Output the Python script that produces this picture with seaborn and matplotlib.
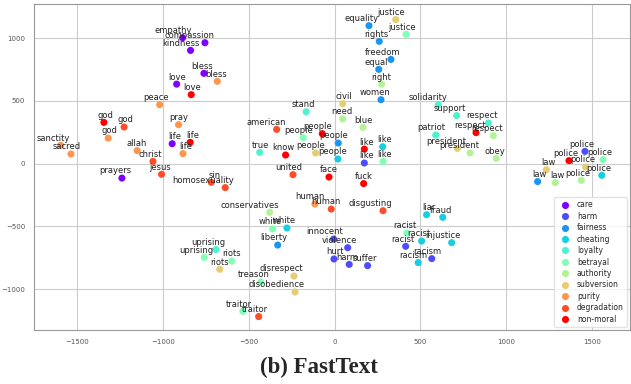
"""
t-SNE style projection of moral foundation words (FastText)
"""
import numpy as np
import pandas as pd
import matplotlib
matplotlib.use("Agg")
import matplotlib.pyplot as plt
import seaborn as sns

sns.set_style("whitegrid")

categories = ["care", "harm", "fairness", "cheating", "loyalty", "betrayal",
              "authority", "subversion", "purity", "degradation", "non-moral"]

care_words = ["empathy", "compassion", "kindness", "bless", "love", "life", "prayers"]
care_x = [-886, -756, -840, -762, -921, -947, -1240]
care_y = [1004, 964, 903, 720, 634, 159, -115]

harm_words = ["like", "innocent", "violence", "hurt", "harm", "suffer", "racist", "racism", "police"]
harm_x = [173, -6, 76, -4, 85, 192, 414, 566, 1459]
harm_y = [5, -601, -670, -760, -803, -813, -659, -757, 98]

fairness_words = ["equality", "rights", "freedom", "equal", "women", "people", "liberty", "law"]
fairness_x = [200, 260, 328, 257, 270, 21, -332, 1183]
fairness_y = [1100, 975, 831, 752, 510, 164, -649, -143]

cheating_words = ["people", "like", "white", "racist", "injustice", "racism", "liar", "fraud", "police"]
cheating_x = [19, 280, -278, 507, 682, 487, 536, 630, 1557]
cheating_y = [37, 135, -513, -617, -630, -789, -407, -428, -93]

loyalty_words = ["stand", "true", "solidarity", "support", "respect", "patriot", "uprising"]
loyalty_x = [-166, -437, 604, 711, 896, 589, -692]
loyalty_y = [414, 90, 470, 383, 324, 228, -685]

betrayal_words = ["justice", "people", "like", "white", "uprising", "riots", "treason",
                  "traitor", "racist", "police"]
betrayal_x = [416, -183, 282, -361, -760, -600, -431, -535, 421, 1564]
betrayal_y = [1031, 207, 18, -521, -747, -776, -944, -1177, -553, 32]

authority_words = ["right", "need", "blue", "conservatives", "respect", "president", "obey",
                   "police", "law"]
authority_x = [274, 47, 165, -379, 925, 789, 942, 1438, 1286]
authority_y = [634, 356, 289, -388, 223, 85, 42, -133, -151]

subversion_words = ["justice", "civil", "people", "riots", "disrespect", "disobedience",
                    "president", "police", "law"]
subversion_x = [356, 47, -111, -670, -237, -231, 715, 1463, 1234]
subversion_y = [1148, 478, 85, -842, -896, -1023, 122, -27, -48]

purity_words = ["bless", "peace", "pray", "god", "sanctity", "sacred", "allah", "life", "human"]
purity_x = [-684, -1020, -910, -1320, -1597, -1537, -1151, -884, -115]
purity_y = [656, 470, 311, 204, 146, 77, 104, 80, -322]

degradation_words = ["god", "christ", "jesus", "sin", "homosexuality", "american", "united",
                     "human", "disgusting", "traitor"]
degradation_x = [-1227, -1059, -1009, -719, -638, -338, -243, -20, 282, -443]
degradation_y = [292, 18, -85, -149, -191, 273, -88, -362, -375, -1219]

nonmoral_words = ["love", "god", "life", "people", "know", "like", "face", "fuck",
                  "respect", "police"]
nonmoral_x = [-836, -1345, -842, -72, -286, 173, -33, 169, 824, 1366]
nonmoral_y = [550, 329, 170, 239, 69, 116, -107, -159, 247, 24]

groups = [
    ("care", care_words, care_x, care_y),
    ("harm", harm_words, harm_x, harm_y),
    ("fairness", fairness_words, fairness_x, fairness_y),
    ("cheating", cheating_words, cheating_x, cheating_y),
    ("loyalty", loyalty_words, loyalty_x, loyalty_y),
    ("betrayal", betrayal_words, betrayal_x, betrayal_y),
    ("authority", authority_words, authority_x, authority_y),
    ("subversion", subversion_words, subversion_x, subversion_y),
    ("purity", purity_words, purity_x, purity_y),
    ("degradation", degradation_words, degradation_x, degradation_y),
    ("non-moral", nonmoral_words, nonmoral_x, nonmoral_y),
]
df = pd.concat([pd.DataFrame({"word": w, "x": x, "y": y, "category": c})
                for c, w, x, y in groups], ignore_index=True)

palette = [tuple(c) for c in plt.cm.rainbow(np.linspace(0, 1, len(categories)))]

fig = plt.figure(figsize=(6.31, 3.84), dpi=100)
ax = fig.add_axes([0.054, 0.141, 0.944, 0.848])

sns.scatterplot(data=df, x="x", y="y", hue="category", hue_order=categories,
                palette=palette, s=26, linewidth=0, ax=ax)

for _, row in df.iterrows():
    ax.annotate(row["word"], (row["x"], row["y"]), xytext=(6.7, 3.3),
                textcoords="offset points", ha="right", va="baseline",
                fontsize=6, color="#222222")

ax.set_xlim(-1752, 1720)
ax.set_ylim(-1325, 1271)
ax.set_xticks([-1500, -1000, -500, 0, 500, 1000, 1500])
ax.set_yticks([-1000, -500, 0, 500, 1000])
ax.set_xlabel("")
ax.set_ylabel("")
ax.tick_params(labelsize=5, colors="#555555", length=3, width=0.6)
ax.grid(color="#cccccc", linewidth=0.8)
for sp in ax.spines.values():
    sp.set_color("#999999")
    sp.set_linewidth(0.8)

leg = ax.legend(loc="lower right", fontsize=5.5, labelspacing=0.32, borderaxespad=0.4,
                handletextpad=0.6, markerscale=1.0, frameon=True)
leg.get_frame().set_edgecolor("#dddddd")

fig.text(0.505, 0.043, "(b) FastText", ha="center", va="center", fontsize=16.5,
         fontweight="bold", family="Liberation Serif")

fig.savefig("out.png", dpi=100)
